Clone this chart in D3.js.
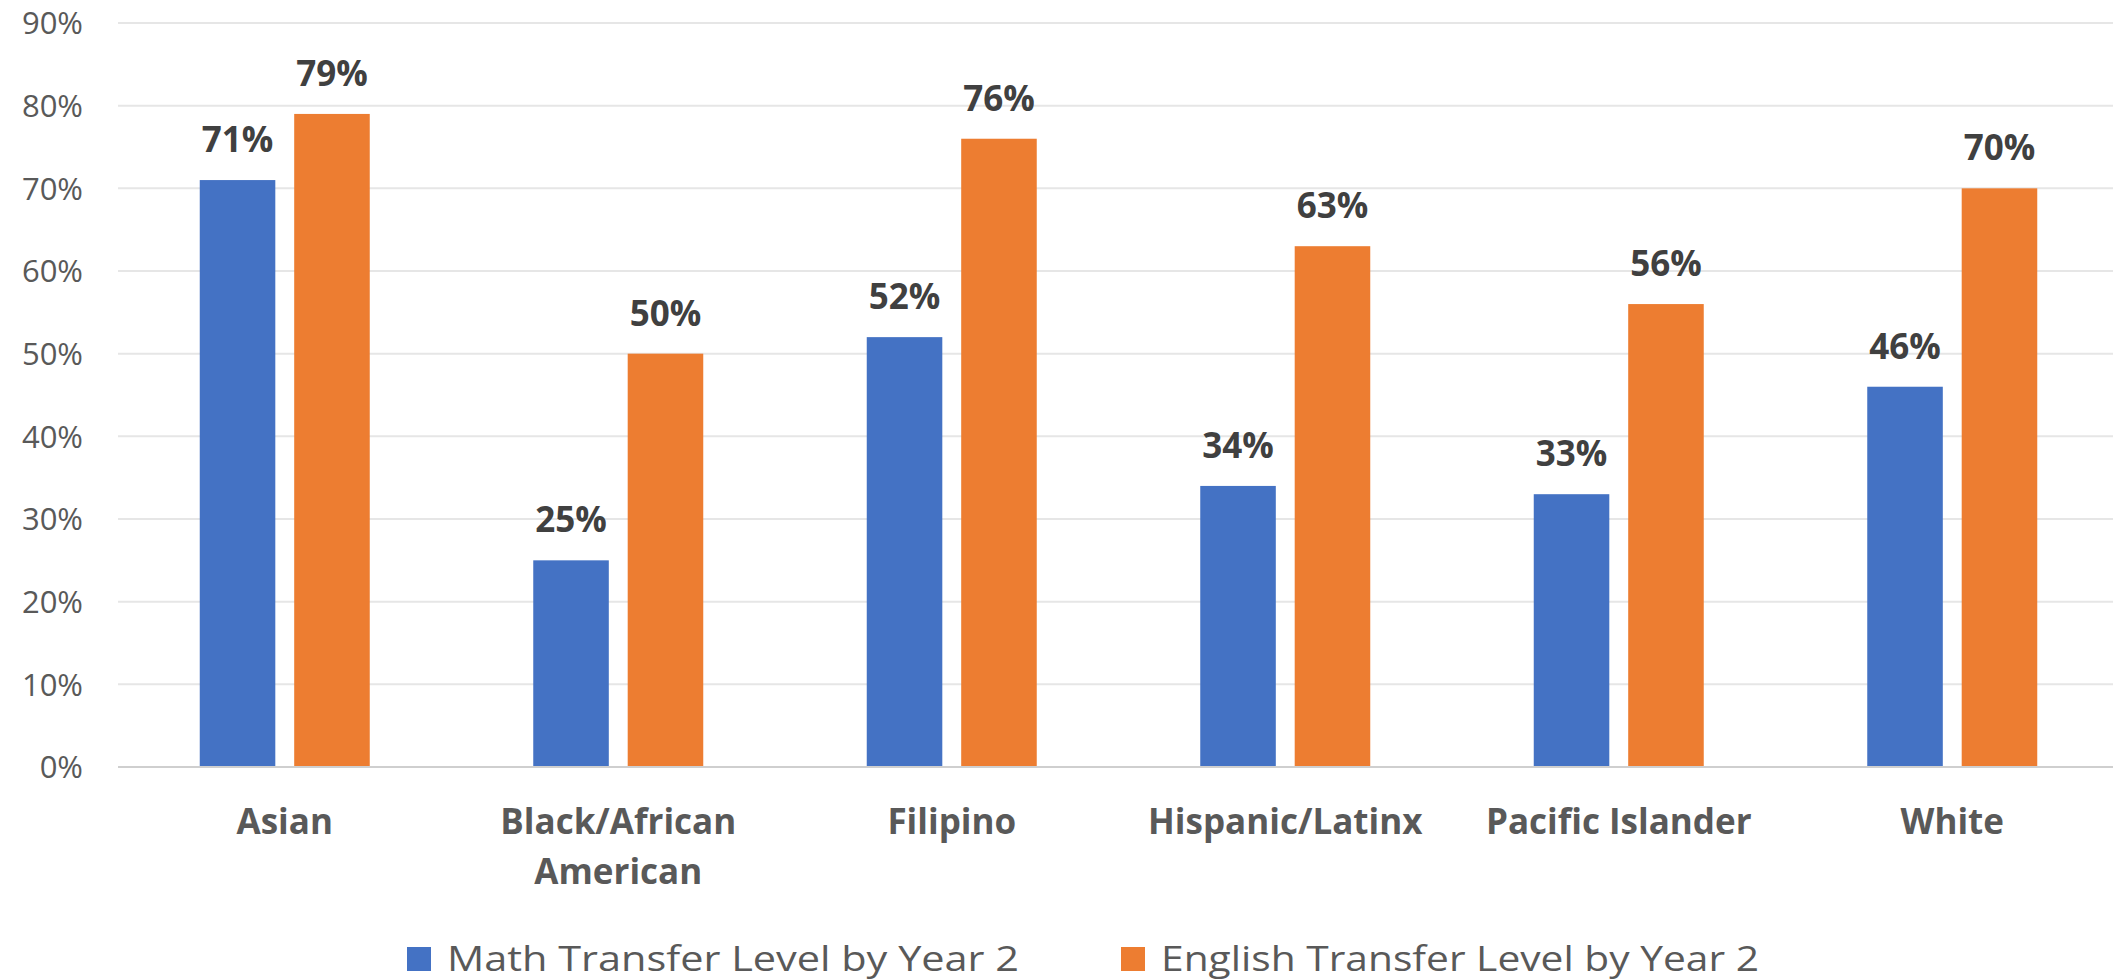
<!DOCTYPE html>
<html>
<head>
<meta charset="utf-8">
<script src="https://cdn.jsdelivr.net/npm/d3@7"></script>
<style>
  body { margin: 0; background: #fff; }
  svg { display: block; }
</style>
</head>
<body>
<svg id="drawing_region"></svg>
<script>
const categories = [["Asian"], ["Black/African", "American"], ["Filipino"], ["Hispanic/Latinx"], ["Pacific Islander"], ["White"]];
const seriesNames = ["Math Transfer Level by Year 2", "English Transfer Level by Year 2"];
const mathValues = [71, 25, 52, 34, 33, 46];
const englishValues = [79, 50, 76, 63, 56, 70];
const yTicks = [0, 10, 20, 30, 40, 50, 60, 70, 80, 90];
const colors = ["#4472C4", "#ED7D31"];

const width = 2113, height = 980;
const margin = { top: 23, right: -6, bottom: 213, left: 118 };
const innerWidth = width - margin.left - margin.right;
const innerHeight = height - margin.top - margin.bottom;

const svg = d3.select('#drawing_region').attr('width', width).attr('height', height);
const chart = svg.append('g').attr('transform', `translate(${margin.left}, ${margin.top})`);

const keys = categories.map(c => c.join(' '));
const data = keys.map((k, i) => ({ key: k, values: [mathValues[i], englishValues[i]] }));

const xscale = d3.scaleBand().domain(keys).range([0, innerWidth]).paddingInner(0).paddingOuter(0);
const xsub = d3.scaleBand().domain([0, 1]).range([xscale.bandwidth() / 2 - 85, xscale.bandwidth() / 2 + 85]).paddingInner(0.2);
const yscale = d3.scaleLinear().domain([0, 90]).range([innerHeight, 0]);

// gridlines
chart.append('g')
  .selectAll('line').data(yTicks.filter(t => t > 0)).join('line')
  .attr('x1', 0).attr('x2', innerWidth)
  .attr('y1', d => yscale(d)).attr('y2', d => yscale(d))
  .attr('stroke', '#e6e6e6').attr('stroke-width', 2);

// y axis labels
const yaxis = d3.axisLeft(yscale).tickValues(yTicks).tickFormat(d => d + '%').tickSize(0).tickPadding(35);
const yg = chart.append('g').call(yaxis);
yg.select('.domain').remove();
yg.selectAll('text').attr('font-family', '"Open Sans", sans-serif').attr('font-size', 31).attr('fill', '#595959').attr('dy', '0.35em');

// bars
const groups = chart.append('g').selectAll('g').data(data).join('g')
  .attr('transform', d => `translate(${xscale(d.key)}, 0)`);

groups.selectAll('rect').data(d => d.values.map((v, i) => ({ v, i }))).join('rect')
  .attr('x', d => xsub(d.i)).attr('width', xsub.bandwidth())
  .attr('y', d => yscale(d.v)).attr('height', d => innerHeight - yscale(d.v))
  .attr('fill', d => colors[d.i]);

groups.selectAll('text.val').data(d => d.values.map((v, i) => ({ v, i }))).join('text')
  .attr('class', 'val')
  .attr('x', d => xsub(d.i) + xsub.bandwidth() / 2)
  .attr('y', d => yscale(d.v) - 28)
  .attr('text-anchor', 'middle')
  .attr('font-family', '"Open Sans", sans-serif').attr('font-weight', 'bold')
  .attr('font-size', 35).attr('fill', '#404040')
  .text(d => d.v + '%');

// baseline
chart.append('line').attr('x1', 0).attr('x2', innerWidth)
  .attr('y1', innerHeight).attr('y2', innerHeight)
  .attr('stroke', '#cfcfcf').attr('stroke-width', 2);

// category labels
const xaxis = d3.axisBottom(xscale).tickSize(0).tickFormat('');
const xg = chart.append('g').attr('transform', `translate(0, ${innerHeight})`).call(xaxis);
xg.select('.domain').remove();
xg.selectAll('.tick text').remove();
xg.selectAll('.tick').each(function(d, i) {
  const t = d3.select(this).append('text')
    .attr('text-anchor', 'middle')
    .attr('font-family', '"Open Sans", sans-serif').attr('font-weight', 'bold')
    .attr('font-size', 35).attr('fill', '#595959');
  categories[i].forEach((line, j) => {
    t.append('tspan').attr('x', 0).attr('y', 67 + j * 50).text(line);
  });
});

// legend
const legendX = [407, 1121];
const legendLen = [572, 598];
const legend = svg.append('g').selectAll('g').data(seriesNames).join('g')
  .attr('transform', (d, i) => `translate(${legendX[i]}, 947)`);
legend.append('rect').attr('width', 24).attr('height', 24).attr('fill', (d, i) => colors[i]);
legend.append('text').attr('x', 40).attr('y', 24)
  .attr('font-family', '"Open Sans", sans-serif').attr('font-size', 35).attr('fill', '#595959')
  .attr('textLength', (d, i) => legendLen[i]).attr('lengthAdjust', 'spacingAndGlyphs')
  .text(d => d);
</script>
</body>
</html>
